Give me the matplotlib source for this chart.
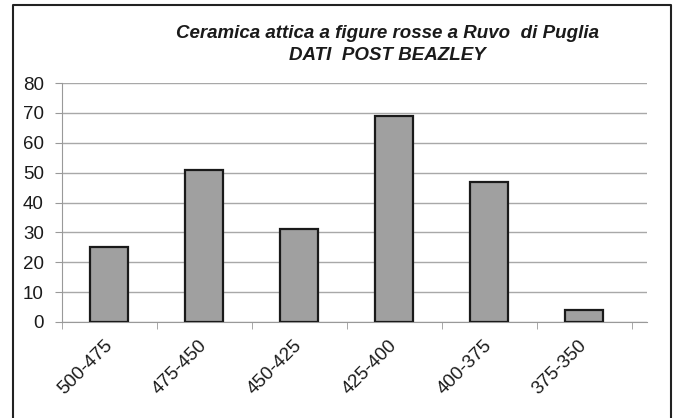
import matplotlib.pyplot as plt
from matplotlib.transforms import ScaledTranslation

# Dati
periodi = ['500-475', '475-450', '450-425', '425-400', '400-375', '375-350']
valori = [25, 51, 31, 69, 47, 4]
yticks = [0, 10, 20, 30, 40, 50, 60, 70, 80]

plt.rcParams['font.family'] = ['Liberation Sans', 'DejaVu Sans']

fig = plt.figure(figsize=(6.76, 4.18), dpi=100)
ax = fig.add_axes([62/676, 1 - 322/418, 585/676, 239/418])

# Cornice esterna (senza lato inferiore)
fig.add_artist(plt.Line2D([13/676, 13/676, 671/676, 671/676],
                          [0, 1 - 5/418, 1 - 5/418, 0],
                          transform=fig.transFigure, color='#222222', lw=1.5))

x = range(len(periodi))
ax.bar(x, valori, width=0.4, color='#a0a0a0', edgecolor='#1a1a1a', linewidth=1.6, zorder=3)

ax.set_ylim(0, 80)
ax.set_xlim(-0.5, 5.66)
ax.set_yticks(yticks)
ax.yaxis.grid(True, color='#a8a8a8', linewidth=1.0, zorder=0)
ax.tick_params(axis='y', labelsize=13.5, length=5, color='#999999', pad=8, labelcolor='#1a1a1a')

ax.set_xticks(list(x))
ax.set_xticklabels(periodi, rotation=45, ha='right', rotation_mode='anchor', fontsize=13.5, color='#1a1a1a')
ax.tick_params(axis='x', length=0, pad=11)
# sposta le etichette un po' a sinistra
sposta = ScaledTranslation(-6/100, 0, fig.dpi_scale_trans)
for lab in ax.get_xticklabels():
    lab.set_transform(lab.get_transform() + sposta)
ax.set_xticks([i - 0.5 for i in range(7)], minor=True)
ax.tick_params(axis='x', which='minor', length=5, color='#999999')

for s in ['top', 'right']:
    ax.spines[s].set_visible(False)
for s in ['left', 'bottom']:
    ax.spines[s].set_color('#999999')

fig.text(387/676, 1 - 33/418, 'Ceramica attica a figure rosse a Ruvo  di Puglia',
         ha='center', va='center', fontsize=13.5, fontweight='bold', fontstyle='italic', color='#1a1a1a')
fig.text(387/676, 1 - 55/418, 'DATI  POST BEAZLEY',
         ha='center', va='center', fontsize=13.5, fontweight='bold', fontstyle='italic', color='#1a1a1a')

fig.savefig('out.png', dpi=100)
